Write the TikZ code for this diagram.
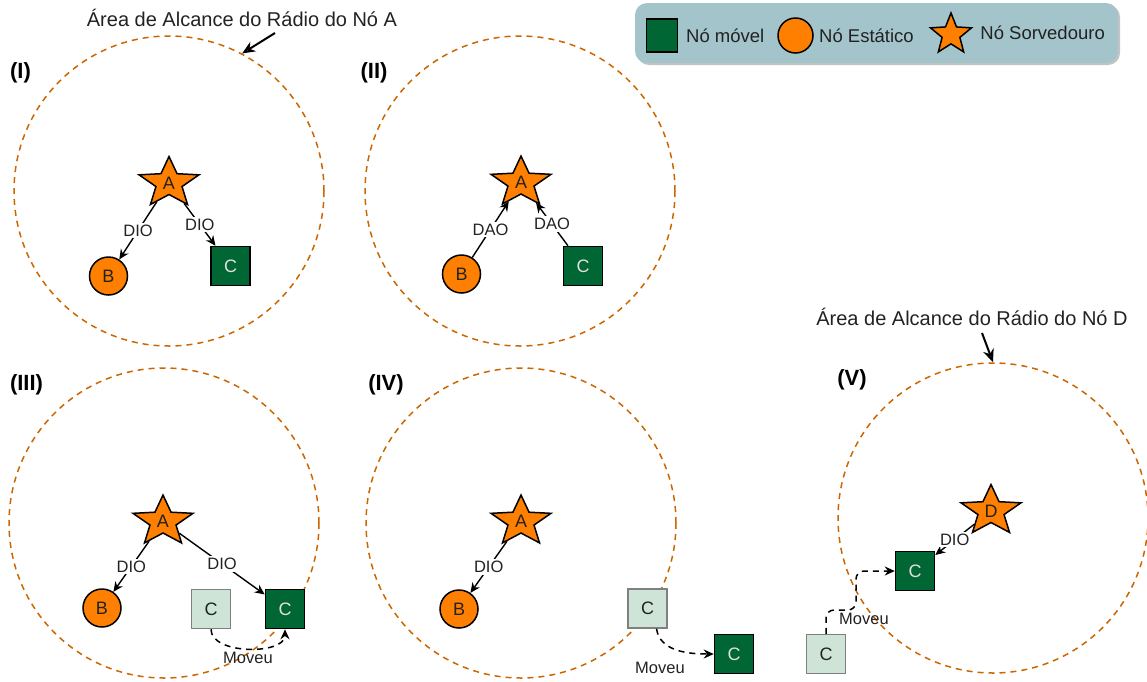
\documentclass[tikz,border=0pt]{standalone}
\usepackage{graphicx}
\usepackage{fontspec}
\setmainfont{Liberation Sans}
\usetikzlibrary{positioning,arrows.meta,shapes.geometric,shadows}
\definecolor{rangecol}{RGB}{204,102,0}
\definecolor{staticfill}{RGB}{255,128,0}
\definecolor{mobilefill}{RGB}{0,102,51}
\definecolor{ghostfill}{RGB}{205,228,214}
\definecolor{ghostrule}{RGB}{128,128,128}
\definecolor{legendfill}{RGB}{163,196,202}
\definecolor{legendshadow}{RGB}{195,195,195}
\definecolor{inktext}{RGB}{34,34,34}
\newcommand{\sinktext}[1]{\scalebox{1}[1.19]{#1}}
\tikzset{
  radiorange/.style={circle,draw=rangecol,line width=0.75pt,dash pattern=on 3pt off 2.5pt,minimum size=155pt,inner sep=0pt},
  sinkbase/.style={star,star points=5,star point ratio=2.3,minimum size=31.5pt,inner sep=0pt,draw=black,line width=0.75pt,fill=staticfill,font=\fontsize{9}{10}\selectfont,text=inktext},
  sink/.style={sinkbase,yscale=0.84},
  staticnode/.style={circle,draw=black,line width=0.75pt,fill=staticfill,minimum size=19pt,inner sep=0pt,font=\fontsize{9}{10}\selectfont,text=inktext},
  mobile/.style={rectangle,draw=black,line width=0.75pt,fill=mobilefill,minimum size=19.5pt,inner sep=0pt,font=\fontsize{9}{10}\selectfont,text=white!88!black},
  ghost/.style={rectangle,draw=ghostrule,line width=0.75pt,fill=ghostfill,minimum size=19.5pt,inner sep=0pt,font=\fontsize{9}{10}\selectfont,text=inktext},
  msg/.style={fill=white,inner sep=1pt,font=\fontsize{8.25}{9}\selectfont,text=inktext},
  movelbl/.style={inner sep=1pt,font=\fontsize{8.25}{9}\selectfont,text=inktext},
  edge/.style={-{Stealth[length=5pt,width=4.5pt]},line width=0.7pt},
  moved/.style={-{Stealth[length=5pt,width=4.5pt]},line width=0.75pt,dash pattern=on 3pt off 2.5pt},
  panellbl/.style={font=\fontsize{11}{13}\selectfont\bfseries,text=black},
  areatxt/.style={font=\fontsize{10}{12}\selectfont,text=inktext},
  pointer/.style={-{Stealth[open,length=6.5pt,width=5.5pt]},line width=1pt},
  legendbox/.style={rectangle,rounded corners=6pt,fill=legendfill,minimum width=241.5pt,minimum height=30pt,drop shadow={shadow xshift=1pt,shadow yshift=-1pt,fill=legendshadow,opacity=1}},
  legtxt/.style={font=\fontsize{9.25}{11}\selectfont,text=inktext,inner sep=0pt}
}

\begin{document}
\begin{tikzpicture}[x=0.5pt,y=-0.5pt]
  \useasboundingbox (0,0) rectangle (1147,681);
  % legend
  \node[legendbox] (legend) at (876.5,33) {};
  \node[mobile,minimum width=15.5pt,minimum height=16.5pt] (legM) at (662,35.5) {};
  \node[legtxt,right=3.75pt of legM] (legMtxt) {Nó móvel};
  \node[staticnode,minimum size=17.5pt] (legS) at (795.5,35.5) {};
  \node[legtxt,right=2.5pt of legS] (legStxt) {Nó Estático};
  \node[sinkbase,minimum size=21.5pt] (legK) at (951,34.5) {};
  \node[legtxt,anchor=west] (legKtxt) at (980,33) {Nó Sorvedouro};
  % (I)
  \node[radiorange] (rI) at (169,191) {};
  \node[panellbl] (pI) at (20.5,73) {(I)};
  \node[areatxt] (areaA) at (242,18) {Área de Alcance do Rádio do Nó A};
  \coordinate (tailA) at (275,33);
  \draw[pointer] (tailA) -- (rI.62);
  \node[sink] (aI) at (169,183) {\sinktext{A}};
  \node[staticnode] (bI) at (108.5,276) {B};
  \node[mobile] (cI) at (230.5,266) {C};
  \draw[edge] (aI) -- node[msg] {DIO} (bI);
  \draw[edge] (aI) -- node[msg] {DIO} (cI);
  % (II)
  \node[radiorange] (rII) at (520,191) {};
  \node[panellbl] (pII) at (374,73) {(II)};
  \node[sink] (aII) at (521,182.5) {\sinktext{A}};
  \node[staticnode] (bII) at (461.5,274) {B};
  \node[mobile] (cII) at (583,266) {C};
  \draw[edge] (bII) -- node[msg] {DAO} (aII);
  \draw[edge] (cII) -- node[msg] {DAO} (aII);
  % (III)
  \node[radiorange] (rIII) at (164,523) {};
  \node[panellbl] (pIII) at (26.5,385) {(III)};
  \node[sink] (aIII) at (163,521.5) {\sinktext{A}};
  \node[staticnode] (bIII) at (102,608) {B};
  \node[ghost] (gIII) at (211,609) {C};
  \node[mobile] (cIII) at (285,609) {C};
  \draw[edge] (aIII) -- node[msg] {DIO} (bIII);
  \draw[edge] (aIII) -- node[msg] {DIO} (cIII);
  \draw[moved] (gIII.south) .. controls (211,655) and (285,655) .. (cIII.south);
  \node[movelbl] (mvIII) at (248,658) {Moveu};
  % (IV)
  \node[radiorange] (rIV) at (521,523) {};
  \node[panellbl] (pIV) at (386,385) {(IV)};
  \node[sink] (aIV) at (521,521.5) {\sinktext{A}};
  \node[staticnode] (bIV) at (459,609) {B};
  \node[ghost] (gIV) at (647.5,608.5) {C};
  \node[mobile] (cIV) at (734,654) {C};
  \draw[edge] (aIV) -- node[msg] {DIO} (bIV);
  \draw[moved] ([xshift=4.5pt]gIV.south) .. controls (660,652) and (690,654) .. (cIV.west);
  \node[movelbl] (mvIV) at (660,668) {Moveu};
  % (V)
  \node[radiorange] (rV) at (993,518) {};
  \node[panellbl] (pV) at (852,380) {(V)};
  \node[areatxt] (areaD) at (972,317) {Área de Alcance do Rádio do Nó D};
  \coordinate (tailD) at (982,333);
  \draw[pointer] (tailD) -- (rV.north);
  \node[sink] (dV) at (991,511) {\sinktext{D}};
  \node[mobile] (cV) at (915,571) {C};
  \node[ghost] (gV) at (826,654) {C};
  \draw[edge] (dV) -- node[msg] {DIO} (cV);
  \draw[moved,rounded corners=4pt] (gV.north) |- (856,610) |- (cV.west);
  \node[movelbl] (mvV) at (864,619) {Moveu};
\end{tikzpicture}
\end{document}
